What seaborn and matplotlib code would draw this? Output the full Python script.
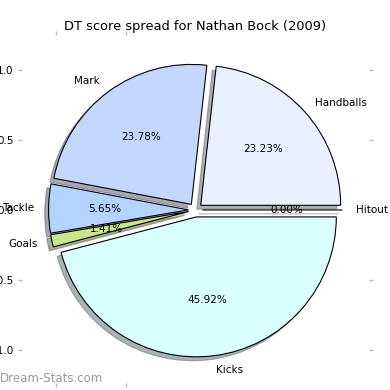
import seaborn as sns
import matplotlib.pyplot as plt

# DT score share per stat (percent of total)
labels = ["Handballs", "Mark", "Tackle", "Goals", "Kicks", "Hitout"]
shares = [23.23, 23.78, 5.65, 1.41, 45.92, 0.0]
colors = ["#eaf0ff", "#c4d8ff", "#b4d4ff", "#c8e68a", "#d9ffff", "#ffffff"]

sns.set_style("white")
plt.rcParams["font.family"] = ["DejaVu Sans"]
plt.rcParams["text.color"] = "black"
plt.rcParams["axes.titlecolor"] = "black"

fig = plt.figure(figsize=(3.9, 3.9), dpi=100)
ax = fig.add_axes([22 / 390, 7 / 390, 347 / 390, 348 / 390])

wedges, texts, autotexts = ax.pie(
    shares,
    labels=labels,
    colors=colors,
    explode=[0.05] * len(shares),
    autopct="%.2f%%",
    shadow={"ox": -0.02, "oy": -0.02, "shade": 0.6},
    startangle=0,
    wedgeprops={"edgecolor": "black", "linewidth": 0.8},
    textprops={"fontsize": 7.5, "color": "black"},
)

ax.set_frame_on(False)
ax.set_xlim(-1.24, 1.24)
ax.set_ylim(-1.236, 1.25)
ax.set_xticks([-1.0, -0.5])
ax.set_yticks([-1.0, -0.5, 0.0, 0.5, 1.0])
ax.tick_params(axis="both", which="both", direction="out", length=3,
               width=1, color="#bbbbbb", labelcolor="black", labelsize=7.5,
               pad=3, top=True, right=True, labeltop=False, labelright=False,
               bottom=True, left=True)

ax.set_title("DT score spread for Nathan Bock (2009)", fontsize=9.4, pad=4,
             color="black")

fig.text(0.0, 0.012, "Dream-Stats.com", color="#9a9a9a", fontsize=8.5,
         ha="left", va="bottom")

plt.savefig("out.png", dpi=100)
plt.close()
